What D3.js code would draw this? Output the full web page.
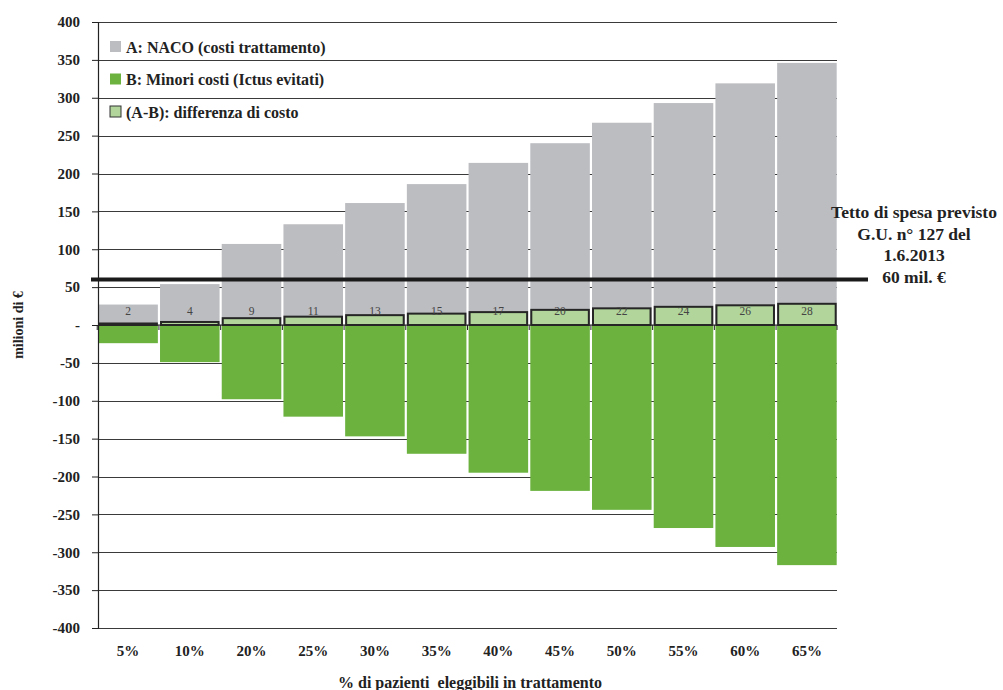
<!DOCTYPE html>
<html>
<head>
<meta charset="utf-8">
<script src="https://cdn.jsdelivr.net/npm/d3@7"></script>
<style>
  body { margin: 0; background: #fff; }
  text { font-family: "Liberation Serif", "Times New Roman", serif; }
</style>
</head>
<body>
<svg id="chart" width="1003" height="690"></svg>
<script>
// data
var categories = ['5%','10%','20%','25%','30%','35%','40%','45%','50%','55%','60%','65%'];
var costiNaco = [27, 54, 107, 133, 161, 186, 214, 240, 267, 293, 319, 346];     // A
var costiEvitati = [-24, -49, -98, -121, -147, -170, -195, -219, -244, -268, -293, -317]; // B
var differenza = [2, 4, 9, 11, 13, 15, 17, 20, 22, 24, 26, 28];                   // A-B
var yTicks = [400,350,300,250,200,150,100,50,0,-50,-100,-150,-200,-250,-300,-350,-400];
var tetto = 60;
var tettoLines = ['Tetto di spesa previsto', 'G.U. n\u00b0 127 del', '1.6.2013', '60 mil. \u20ac'];
var legendItems = [
    {label: 'A: NACO (costi trattamento)', color: '#bcbdc1', border: false},
    {label: 'B: Minori costi (Ictus evitati)', color: '#6bb23f', border: false},
    {label: '(A-B): differenza di costo', color: '#b1d59a', border: true}
];

var svg = d3.select('#chart');
var plotL = 98, plotR = 837, plotT = 22, plotB = 628;

var x = d3.scaleBand().domain(categories).range([plotL, plotR]).paddingInner(0.035).paddingOuter(0.005);
var y = d3.scaleLinear().domain([-400, 400]).range([plotB, plotT]);

// gridlines
svg.append('g').selectAll('line').data(yTicks.filter(d => d != 0)).enter()
    .append('line')
    .attr('x1', plotL).attr('x2', plotR)
    .attr('y1', d => Math.round(y(d)) + 0.5).attr('y2', d => Math.round(y(d)) + 0.5)
    .attr('stroke', '#3a3a3a').attr('stroke-width', 1.2);

// A bars
svg.append('g').selectAll('rect').data(costiNaco).enter()
    .append('rect')
    .attr('x', (d,i) => x(categories[i]))
    .attr('width', x.bandwidth())
    .attr('y', d => y(d))
    .attr('height', d => y(0) - y(d))
    .attr('fill', '#bcbdc1');

// B bars
svg.append('g').selectAll('rect').data(costiEvitati).enter()
    .append('rect')
    .attr('x', (d,i) => x(categories[i]))
    .attr('width', x.bandwidth())
    .attr('y', y(0))
    .attr('height', d => y(d) - y(0))
    .attr('fill', '#6bb23f');

// x axis line at zero
var xAxis = svg.append('g');
xAxis.append('line')
    .attr('x1', plotL).attr('x2', plotR)
    .attr('y1', y(0)).attr('y2', y(0))
    .attr('stroke', '#222').attr('stroke-width', 1.2);
var bounds = categories.map(c => x(c) - x.step() * x.paddingInner() / 2);
bounds.push(plotR);
xAxis.selectAll('.tk').data(bounds).enter()
    .append('line')
    .attr('x1', d => d).attr('x2', d => d)
    .attr('y1', y(0)).attr('y2', y(0) + 5)
    .attr('stroke', '#222').attr('stroke-width', 1);

// A-B bars
svg.append('g').selectAll('rect').data(differenza).enter()
    .append('rect')
    .attr('x', (d,i) => x(categories[i]) + 1)
    .attr('width', x.bandwidth() - 2)
    .attr('y', d => y(d))
    .attr('height', d => y(0) - y(d))
    .attr('fill', '#b1d59a')
    .attr('stroke', '#262626').attr('stroke-width', 2);

// value labels
svg.append('g').selectAll('text').data(differenza).enter()
    .append('text')
    .attr('x', (d,i) => x(categories[i]) + x.bandwidth() / 2)
    .attr('y', y(18))
    .attr('dy', '0.35em')
    .attr('text-anchor', 'middle')
    .attr('font-size', 11.5)
    .attr('fill', '#444')
    .text(d => d);

// y axis
var yAxis = d3.axisLeft(y).tickValues(yTicks).tickSize(6).tickPadding(12)
    .tickFormat(d => d == 0 ? '-' : d);
var gy = svg.append('g').attr('transform', 'translate(' + plotL + ',0)').call(yAxis);
gy.select('.domain').attr('stroke', '#222').attr('stroke-width', 1.2);
gy.selectAll('.tick line').attr('stroke', '#222');
gy.selectAll('.tick text')
    .attr('font-family', '"Liberation Serif", serif')
    .attr('font-size', 15).attr('font-weight', 'bold').attr('fill', '#222');

// threshold line
svg.append('line')
    .attr('x1', 91).attr('x2', 868)
    .attr('y1', y(tetto)).attr('y2', y(tetto))
    .attr('stroke', '#1a1a1a').attr('stroke-width', 4);

// threshold annotation
svg.append('g')
    .selectAll('text').data(tettoLines).enter()
    .append('text')
    .attr('x', 914)
    .attr('y', (d,i) => 218 + i * 21.5)
    .attr('text-anchor', 'middle')
    .attr('font-size', 17.5).attr('font-weight', 'bold').attr('fill', '#222')
    .text(d => d);

// category labels
svg.append('g').selectAll('text').data(categories).enter()
    .append('text')
    .attr('x', d => x(d) + x.bandwidth() / 2)
    .attr('y', 656)
    .attr('text-anchor', 'middle')
    .attr('font-size', 15).attr('font-weight', 'bold').attr('fill', '#222')
    .text(d => d);

// axis titles
svg.append('text')
    .attr('x', 470).attr('y', 688)
    .attr('text-anchor', 'middle')
    .attr('font-size', 16).attr('font-weight', 'bold').attr('fill', '#222')
    .attr('xml:space', 'preserve')
    .text('% di pazienti  eleggibili in trattamento');

svg.append('text')
    .attr('transform', 'translate(23,' + y(0) + ') rotate(-90)')
    .attr('text-anchor', 'middle')
    .attr('font-size', 14).attr('font-weight', 'bold').attr('fill', '#222')
    .text('milioni di \u20ac');

// legend
var legend = svg.append('g').selectAll('g').data(legendItems).enter()
    .append('g')
    .attr('transform', (d,i) => 'translate(110,' + (41 + i * 32.5) + ')');
legend.append('rect')
    .attr('width', 11).attr('height', 11)
    .attr('fill', d => d.color)
    .attr('stroke', d => d.border ? '#333' : 'none')
    .attr('stroke-width', 1);
legend.append('text')
    .attr('x', 16).attr('y', 6)
    .attr('dy', '0.35em')
    .attr('font-size', 16).attr('font-weight', 'bold').attr('fill', '#222')
    .text(d => d.label);
</script>
</body>
</html>
